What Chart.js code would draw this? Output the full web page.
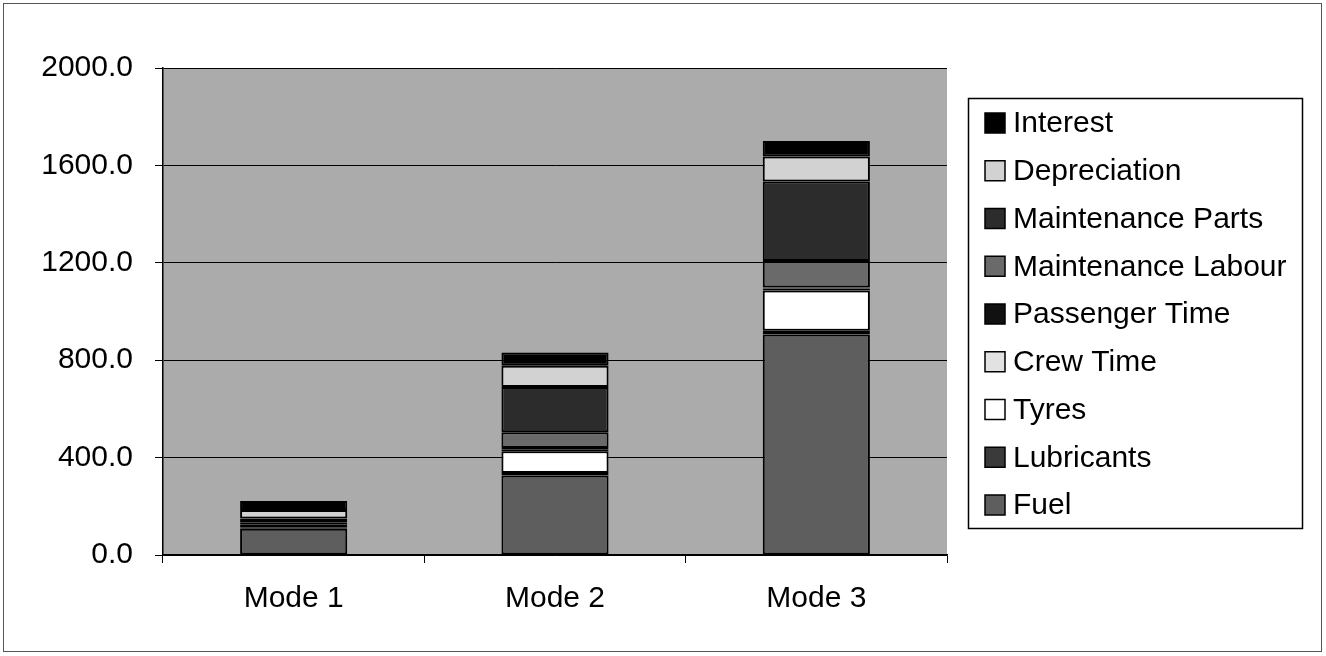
<!DOCTYPE html>
<html>
<head>
<meta charset="utf-8">
<script src="https://cdn.jsdelivr.net/npm/chart.js@4.4.0/dist/chart.umd.min.js"></script>
<style>
  html, body { margin: 0; padding: 0; background: #fff; }
  #wrap { width: 1326px; height: 656px; position: relative; }
</style>
</head>
<body>
<div id="wrap"><canvas id="custos"></canvas></div>
<script>
const modos = ['Mode 1', 'Mode 2', 'Mode 3'];

const fuel = [108, 327, 906];
const lubricants = [6, 10, 15];
const tyres = [5, 89, 165];
const crewTime = [4, 8, 8];
const passengerTime = [3, 5, 5];
const maintLabour = [8, 65, 108];
const maintParts = [16, 186, 327];
const depreciation = [35, 87, 103];
const interest = [37, 55, 63];

const yTicks = [0, 400, 800, 1200, 1600, 2000];

const series = [
    { label: 'Fuel', data: fuel, cor: '#5e5e5e' },
    { label: 'Lubricants', data: lubricants, cor: '#3a3a3a' },
    { label: 'Tyres', data: tyres, cor: '#ffffff' },
    { label: 'Crew Time', data: crewTime, cor: '#e2e2e2' },
    { label: 'Passenger Time', data: passengerTime, cor: '#111111' },
    { label: 'Maintenance Labour', data: maintLabour, cor: '#6a6a6a' },
    { label: 'Maintenance Parts', data: maintParts, cor: '#2c2c2c' },
    { label: 'Depreciation', data: depreciation, cor: '#d2d2d2' },
    { label: 'Interest', data: interest, cor: '#000000' }
];

const fonte = { family: 'Liberation Sans, Arial, sans-serif', size: 30 };

// fundo cinza da area do grafico + moldura externa
const fundoPlugin = {
    id: 'fundo',
    beforeDraw(chart) {
        const { ctx, chartArea: a } = chart;
        ctx.save();
        ctx.fillStyle = '#ababab';
        ctx.fillRect(a.left, a.top, a.right - a.left, a.bottom - a.top);
        ctx.strokeStyle = '#555';
        ctx.lineWidth = 1;
        ctx.strokeRect(3.5, 3.5, 1318, 648);
        ctx.restore();
    }
};

// legenda com caixa, ordem invertida como no original
const legendaPlugin = {
    id: 'legendaCaixa',
    afterDraw(chart) {
        const ctx = chart.ctx;
        const x0 = 968, y0 = 98, w = 334, h = 430;
        ctx.save();
        ctx.fillStyle = '#fff';
        ctx.fillRect(x0, y0, w, h);
        ctx.strokeStyle = '#000';
        ctx.lineWidth = 1.5;
        ctx.strokeRect(x0 + 0.5, y0 + 0.5, w, h);
        const itens = chart.data.datasets.slice().reverse();
        ctx.font = fonte.size + 'px ' + fonte.family;
        ctx.textBaseline = 'middle';
        itens.forEach((ds, i) => {
            const cy = 123 + i * 47.75;
            ctx.fillStyle = ds.backgroundColor;
            ctx.fillRect(985, cy - 10, 20, 20);
            ctx.strokeStyle = '#000';
            ctx.lineWidth = 1.5;
            ctx.strokeRect(985, cy - 10, 20, 20);
            ctx.fillStyle = '#000';
            ctx.fillText(ds.label, 1013, cy + 1);
        });
        ctx.restore();
    }
};

const config = {
    type: 'bar',
    data: {
        labels: modos,
        datasets: series.map(s => ({
            label: s.label,
            data: s.data,
            backgroundColor: s.cor,
            borderColor: '#000',
            borderWidth: 2,
            borderSkipped: false,
            barPercentage: 0.41,
            categoryPercentage: 1.0
        }))
    },
    options: {
        responsive: true,
        maintainAspectRatio: false,
        animation: false,
        layout: {
            padding: { left: 0, right: 379, top: 68, bottom: 48 }
        },
        plugins: {
            legend: { display: false },
            tooltip: { enabled: false }
        },
        scales: {
            x: {
                stacked: true,
                afterFit(axis) { axis.height = 53; },
                grid: {
                    offset: true,
                    drawOnChartArea: false,
                    tickLength: 8,
                    tickColor: '#000'
                },
                border: { color: '#000', width: 1.5 },
                ticks: { color: '#000', font: fonte, padding: 18 }
            },
            y: {
                stacked: true,
                min: 0,
                max: 2000,
                afterFit(axis) { axis.width = 163; },
                afterBuildTicks(axis) {
                    axis.ticks = yTicks.map(v => ({ value: v }));
                },
                grid: {
                    color: '#000',
                    lineWidth: 1,
                    tickLength: 8,
                    tickColor: '#000'
                },
                border: { color: '#000', width: 1.5 },
                ticks: {
                    color: '#000',
                    font: fonte,
                    padding: 22,
                    callback: v => v.toFixed(1)
                }
            }
        }
    },
    plugins: [fundoPlugin, legendaPlugin]
};

const custosChart = new Chart(document.getElementById('custos'), config);
</script>
</body>
</html>
